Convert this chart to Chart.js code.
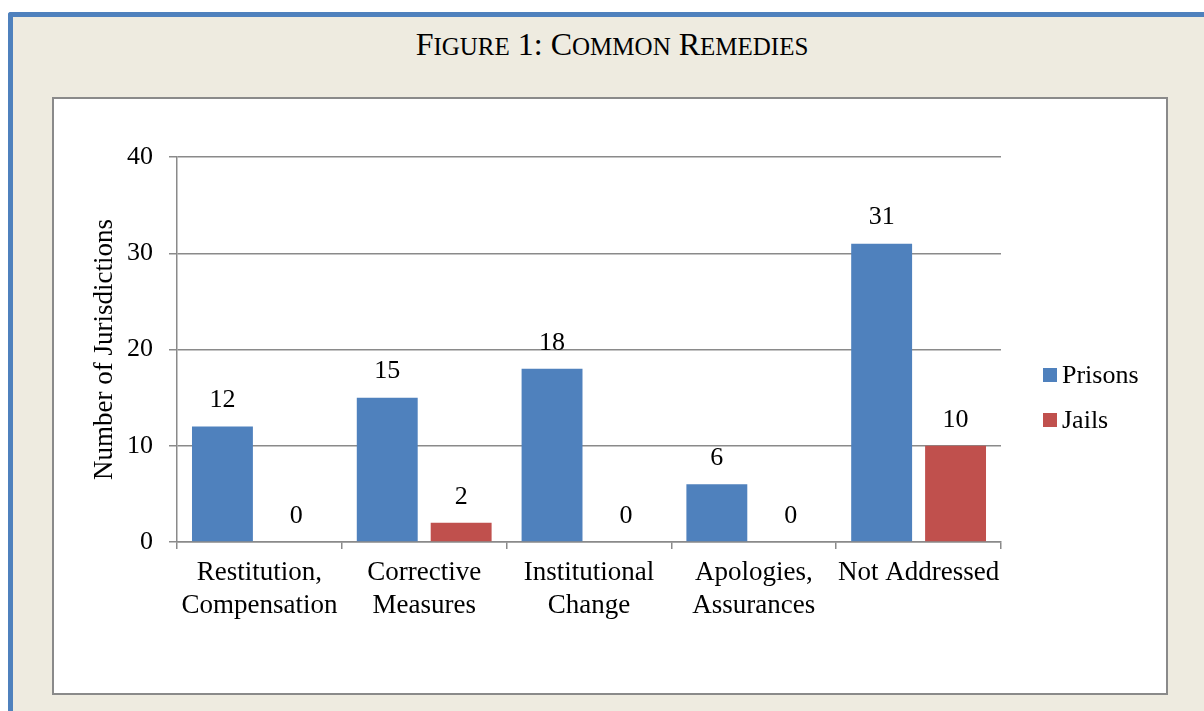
<!DOCTYPE html>
<html>
<head>
<meta charset="utf-8">
<script src="https://cdn.jsdelivr.net/npm/chart.js@4.4.1/dist/chart.umd.min.js"></script>
<style>
  html, body { margin: 0; padding: 0; background: #ffffff; width: 1204px; height: 711px; overflow: hidden; }
  .moldura {
    position: absolute; left: 8px; top: 12px; width: 1300px; height: 800px;
    border-left: 5px solid #4F81BD; border-top: 5px solid #4F81BD;
    border-top-left-radius: 3px; background: #EEEBE0;
  }
  .titulo {
    position: absolute; left: 0; top: 26px; width: 1224px; text-align: center;
    font-family: "Liberation Serif", "Times New Roman", serif; font-size: 32px;
    color: #000; white-space: nowrap;
  }
  .titulo .pq { font-size: 25px; }
  .caixa {
    position: absolute; left: 52px; top: 97px; width: 1116px; height: 598px;
    box-sizing: border-box; border: 2px solid #8a8a8a; background: #ffffff;
  }
  .caixa canvas { display: block; }
</style>
</head>
<body>
<div class="moldura"></div>
<div class="titulo">F<span class="pq">IGURE</span> 1: C<span class="pq">OMMON</span> R<span class="pq">EMEDIES</span></div>
<div class="caixa"><canvas id="grafico_remedios" width="1112" height="594"></canvas></div>
<script>
// Dados do gráfico
const categorias = [['Restitution,', 'Compensation'], ['Corrective', 'Measures'], ['Institutional', 'Change'], ['Apologies,', 'Assurances'], 'Not Addressed'];
const valoresPrisons = [12, 15, 18, 6, 31];
const valoresJails = [0, 2, 0, 0, 10];
const ticksY = [0, 10, 20, 30, 40];

const fonte = '"Liberation Serif", "Times New Roman", serif';
const corGrade = '#8a8a8a';

// Rótulos de valor acima das barras
const rotulosValores = {
    id: 'rotulosValores',
    afterDatasetsDraw(chart) {
        const ctx = chart.ctx;
        ctx.save();
        ctx.font = '26px ' + fonte;
        ctx.fillStyle = '#000';
        ctx.textAlign = 'center';
        ctx.textBaseline = 'middle';
        chart.data.datasets.forEach((ds, i) => {
            chart.getDatasetMeta(i).data.forEach((barra, j) => {
                ctx.fillText(ds.data[j], barra.x, barra.y - 26);
            });
        });
        ctx.restore();
    }
};

// Legenda desenhada à direita
const legendaDireita = {
    id: 'legendaDireita',
    afterDraw(chart) {
        const ctx = chart.ctx;
        ctx.save();
        ctx.font = '26px ' + fonte;
        ctx.textBaseline = 'middle';
        ctx.textAlign = 'left';
        chart.data.datasets.forEach((ds, i) => {
            const y = 276 + i * 45;
            ctx.fillStyle = ds.backgroundColor;
            ctx.fillRect(989, y - 7, 14, 14);
            ctx.fillStyle = '#000';
            ctx.fillText(ds.label, 1008, y + 1);
        });
        ctx.restore();
    }
};

const ctxRemedios = document.getElementById('grafico_remedios').getContext('2d');
new Chart(ctxRemedios, {
    type: 'bar',
    data: {
        labels: categorias,
        datasets: [
            { label: 'Prisons', data: valoresPrisons, backgroundColor: '#4F81BD', barPercentage: 0.824, categoryPercentage: 0.897 },
            { label: 'Jails', data: valoresJails, backgroundColor: '#C0504D', barPercentage: 0.824, categoryPercentage: 0.897 }
        ]
    },
    options: {
        responsive: false,
        animation: false,
        layout: { padding: { left: 0, top: 58, right: 165, bottom: 0 } },
        plugins: { legend: { display: false }, tooltip: { enabled: false } },
        scales: {
            x: {
                afterFit: (escala) => { escala.height = 151; },
                grid: { offset: true, drawOnChartArea: false, tickLength: 7, color: corGrade, lineWidth: 1.5 },
                border: { color: corGrade, width: 1.5 },
                ticks: { color: '#000', padding: 8, maxRotation: 0, font: { family: fonte, size: 27 } }
            },
            y: {
                min: 0,
                max: 40,
                afterFit: (escala) => { escala.width = 123; },
                afterBuildTicks: (escala) => { escala.ticks = ticksY.map(v => ({ value: v })); },
                grid: { color: corGrade, tickLength: 8, lineWidth: 1.5 },
                border: { color: corGrade, width: 1.5 },
                ticks: { color: '#000', padding: 16, font: { family: fonte, size: 26 } },
                title: {
                    display: true,
                    text: 'Number of Jurisdictions',
                    color: '#000',
                    padding: { top: 35, bottom: 0 },
                    font: { family: fonte, size: 27 }
                }
            }
        }
    },
    plugins: [rotulosValores, legendaDireita]
});
</script>
</body>
</html>
